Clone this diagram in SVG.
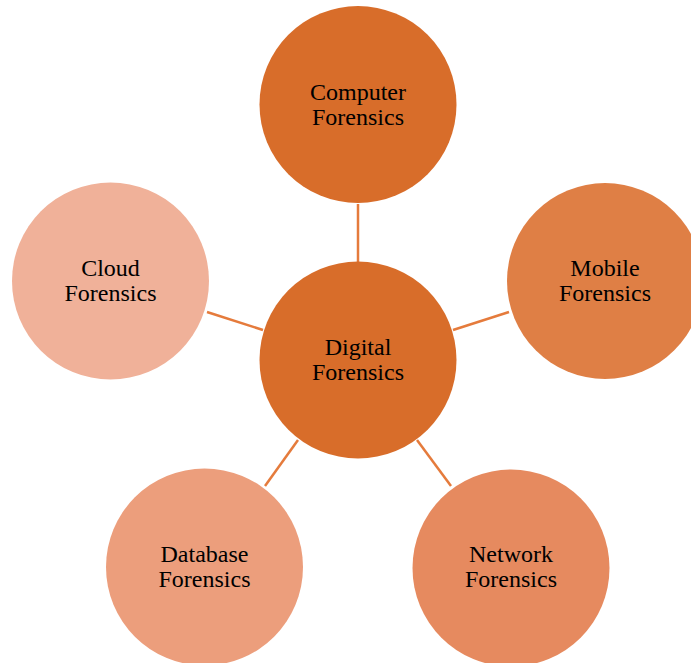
<svg xmlns="http://www.w3.org/2000/svg" width="691" height="663" viewBox="0 0 691 663">
  <style>
    .link { stroke: #E57B3C; stroke-width: 2.5; fill: none; }
    .label { font-family: "Liberation Serif", "Times New Roman", serif; font-size: 24px; fill: #000; text-anchor: middle; }
  </style>
  <rect width="691" height="663" fill="#ffffff"/>
  <g id="connectors">
    <line class="link" x1="358" y1="204" x2="358" y2="262"/>
    <line class="link" x1="453" y1="330" x2="509" y2="312"/>
    <line class="link" x1="207" y1="312" x2="263" y2="330"/>
    <line class="link" x1="265" y1="486" x2="298" y2="440"/>
    <line class="link" x1="417" y1="440" x2="451" y2="486"/>
  </g>
  <g id="digital">
    <circle cx="358" cy="360" r="98.5" fill="#D86D2A"/>
    <text class="label" x="358" y="355">Digital</text>
    <text class="label" x="358" y="380">Forensics</text>
  </g>
  <g id="computer">
    <circle cx="358" cy="104.5" r="98.5" fill="#D86D2A"/>
    <text class="label" x="358" y="100">Computer</text>
    <text class="label" x="358" y="125">Forensics</text>
  </g>
  <g id="mobile">
    <circle cx="605" cy="281" r="98" fill="#DF7F45"/>
    <text class="label" x="605" y="276">Mobile</text>
    <text class="label" x="605" y="301">Forensics</text>
  </g>
  <g id="network">
    <circle cx="511" cy="568" r="98.5" fill="#E68A5F"/>
    <text class="label" x="511" y="562">Network</text>
    <text class="label" x="511" y="587">Forensics</text>
  </g>
  <g id="database">
    <circle cx="204.5" cy="567" r="98.5" fill="#EC9E7C"/>
    <text class="label" x="204.5" y="562">Database</text>
    <text class="label" x="204.5" y="587">Forensics</text>
  </g>
  <g id="cloud">
    <circle cx="110.5" cy="281" r="98.5" fill="#F0B199"/>
    <text class="label" x="110.5" y="276">Cloud</text>
    <text class="label" x="110.5" y="301">Forensics</text>
  </g>
</svg>
